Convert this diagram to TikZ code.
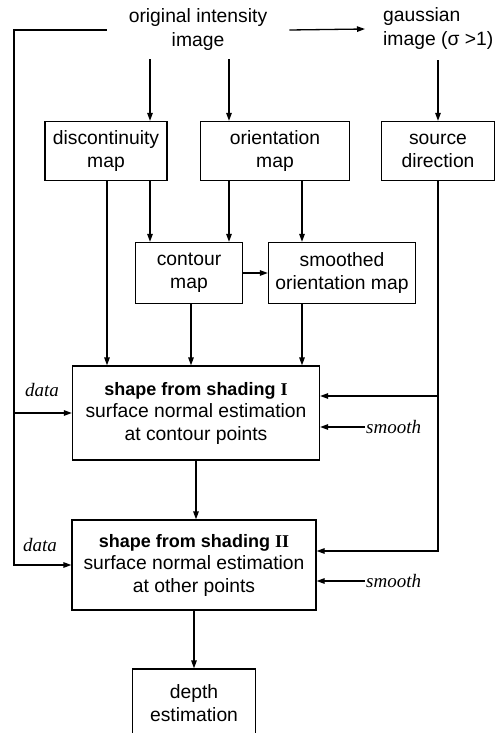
\documentclass[tikz,border=0pt]{standalone}
\usepackage{fontspec}
\setmainfont{Liberation Sans}
\newfontfamily\timesfont{Liberation Serif}
\usetikzlibrary{arrows.meta}

\begin{document}
\begin{tikzpicture}[x=1pt,y=-1pt,
    box/.style={rectangle,draw,line width=1.3pt,align=center,inner sep=0pt,font=\fontsize{19.3}{22.5}\selectfont},
    lbl/.style={align=center,inner sep=2pt,font=\fontsize{19.3}{24}\selectfont},
    side/.style={inner sep=1pt,font=\fontsize{19}{22}\selectfont\timesfont\itshape},
    arrow/.style={-{Triangle[length=8pt,width=5.5pt]},line width=1.3pt}
]
\useasboundingbox (0,0) rectangle (496,733);
% inputs
\node[lbl] (orig) at (198,30) {original intensity\\image};
\node[lbl,align=left,anchor=west] (gauss) at (381,29) {gaussian\\image (σ >1)};
% first row
\node[box,minimum width=122pt,minimum height=59pt] (disc) at (106,151) {discontinuity\\map};
\node[box,minimum width=149pt,minimum height=59pt] (orient) at (275,151) {orientation\\map};
\node[box,minimum width=113pt,minimum height=59pt] (source) at (438,151) {source\\direction};
% second row
\node[box,minimum width=107pt,minimum height=61pt] (contour) at (189,273) {contour\\map};
\node[box,minimum width=147pt,minimum height=61pt] (smooth) at (342,273) {smoothed\\orientation map};
% shape from shading
\node[box,minimum width=247pt,minimum height=94pt] (sfs1) at (196,413)
  {{\fontsize{18}{22.5}\selectfont\bfseries shape from shading {\timesfont I}}\\surface normal estimation\\at contour points};
\node[box,minimum width=244pt,minimum height=90pt] (sfs2) at (194,565)
  {{\fontsize{18}{22.5}\selectfont\bfseries shape from shading {\timesfont II}}\\surface normal estimation\\at other points};
\node[box,minimum width=123pt,minimum height=68pt] (depth) at (194,703) {depth\\estimation};
% side labels
\node[side] (d1) at (42,390) {data};
\node[side] (d2) at (40,545) {data};
\node[side,anchor=west] (s1) at (365,427) {smooth};
\node[side,anchor=west] (s2) at (365,581) {smooth};

% vertical lanes
\coordinate (l1) at (150,0);
\coordinate (l2) at (229,0);
\coordinate (l3) at (107,0);
\coordinate (l4) at (191,0);
\coordinate (l5) at (302,0);
\coordinate (dl) at (14,413);
\coordinate (s1r) at ([yshift=17pt]sfs1.east);
\coordinate (s2r) at ([yshift=14pt]sfs2.east);

\draw[arrow,shorten <=6pt] (l1 |- orig.south) -- (l1 |- disc.north);
\draw[arrow,shorten <=6pt] (l2 |- orig.south) -- (l2 |- orient.north);
\draw[arrow,shorten <=8pt] (gauss.south -| source.north) -- (source.north);
\draw[arrow] ([xshift=20pt]orig.east) -- ([xshift=-16pt]gauss.west);
\draw[arrow] (l1 |- disc.south) -- (l1 |- contour.north);
\draw[arrow] (l2 |- orient.south) -- (l2 |- contour.north);
\draw[arrow] (l5 |- orient.south) -- (l5 |- smooth.north);
\draw[arrow] (contour) -- (smooth);
\draw[arrow] (l3 |- disc.south) -- (l3 |- sfs1.north);
\draw[arrow] (l4 |- contour.south) -- (l4 |- sfs1.north);
\draw[arrow] (l5 |- smooth.south) -- (l5 |- sfs1.north);
\draw[arrow] (sfs1.south) -- (sfs1.south |- sfs2.north);
\draw[arrow] (sfs2.south) -- (sfs2.south |- depth.north);
% data loop on the left
\draw[arrow] ([xshift=-20pt]orig.west) -| (dl) |- (sfs2.west);
\draw[arrow] (dl) -- (sfs1.west);
% source direction on the right
\draw[arrow] (source.south) |- (s2r);
\draw[arrow] (source.south |- s1r) -- (s1r);
\draw[arrow] (s1.west) -- (s1.west -| sfs1.east);
\draw[arrow] (s2.west) -- (s2.west -| sfs2.east);
\end{tikzpicture}
\end{document}
